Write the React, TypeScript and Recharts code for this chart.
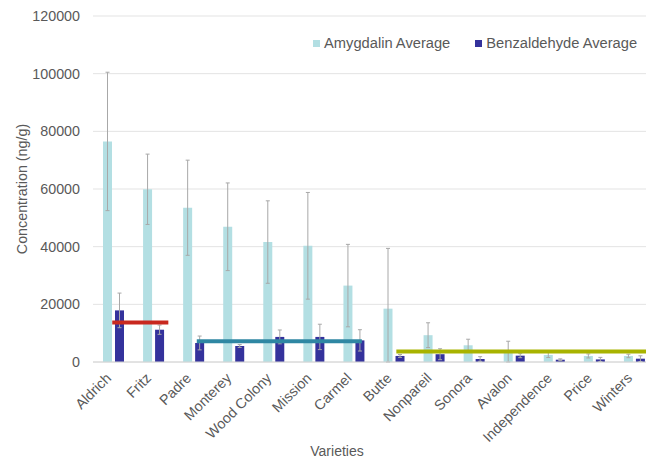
import React from 'react';
import { BarChart, Bar, XAxis, YAxis, CartesianGrid, ErrorBar, ReferenceLine, Legend } from 'recharts';

const varieties = ['Aldrich', 'Fritz', 'Padre', 'Monterey', 'Wood Colony', 'Mission', 'Carmel', 'Butte', 'Nonpareil', 'Sonora', 'Avalon', 'Independence', 'Price', 'Winters'];
const amygdalinAvg = [76500, 59900, 53500, 46900, 41600, 40300, 26500, 18500, 9300, 5800, 3100, 2450, 2100, 2100];
const amygdalinErr: [number, number][] = [[24000, 24000], [12200, 12200], [16500, 16500], [15200, 15200], [14300, 14300], [18500, 18500], [14300, 14300], [18500, 20900], [4300, 4300], [2100, 2100], [3100, 4100], [900, 900], [700, 700], [600, 600]];
const benzaldehydeAvg = [17900, 11200, 6600, 5550, 8700, 8700, 7500, 2100, 2700, 1050, 2200, 800, 900, 1150];
const benzaldehydeErr: [number, number][] = [[6000, 6000], [1600, 1600], [2400, 2400], [500, 500], [2400, 2400], [4400, 4400], [3700, 3700], [500, 500], [1900, 1900], [800, 800], [700, 700], [300, 300], [700, 700], [1000, 1000]];
const yTicks = [0, 20000, 40000, 60000, 80000, 100000, 120000];

// group mean lines: anchored on two categories, with start/end given in band units (0 = left edge of first band)
const groupLines: { from: string; to: string; start: number; end: number; y: number; color: string }[] = [
  { from: 'Aldrich', to: 'Fritz', start: 0.48, end: 1.88, y: 13700, color: '#c8281f' },
  { from: 'Padre', to: 'Carmel', start: 2.59, end: 6.71, y: 7200, color: '#2f87a3' },
  { from: 'Butte', to: 'Winters', start: 7.57, end: 14, y: 3600, color: '#a8b300' },
];

const data = varieties.map((name, i) => ({
  name,
  amygdalin: amygdalinAvg[i],
  amygErr: amygdalinErr[i],
  benzaldehyde: benzaldehydeAvg[i],
  benzErr: benzaldehydeErr[i],
}));

const FONT = '"Liberation Sans", Arial, sans-serif';
const TEXT = '#595959';
const AMY = '#b3dfe3';
const BENZ = '#34329c';
const ERR = '#a8a8a8';

const XTick = (props: any) => {
  const { x, y, payload } = props;
  const px = x - 1;
  const py = y + 9;
  return (
    <text x={px} y={py} transform={`rotate(-45, ${px}, ${py})`} textAnchor="end" fill={TEXT} fontSize={14.3} fontFamily={FONT}>
      {payload.value}
    </text>
  );
};

const LegendContent = () => (
  <div style={{ display: 'flex', alignItems: 'center', fontFamily: FONT, fontSize: 14.7, color: TEXT, lineHeight: '18px', whiteSpace: 'nowrap' }}>
    <span style={{ display: 'inline-block', width: 7, height: 7, background: AMY, marginRight: 4 }} />
    <span>Amygdalin Average</span>
    <span style={{ display: 'inline-block', width: 7, height: 7, background: BENZ, marginLeft: 25, marginRight: 4 }} />
    <span>Benzaldehyde Average</span>
  </div>
);

const makeGroupShape = (g: { from: string; to: string; start: number; end: number; color: string }) => (p: any) => {
  const i1 = varieties.indexOf(g.from);
  const i2 = varieties.indexOf(g.to);
  const band = (p.x2 - p.x1) / (i2 - i1);
  const xs = p.x1 + (g.start - (i1 + 0.5)) * band;
  const xe = p.x1 + (g.end - (i1 + 0.5)) * band;
  return <line x1={xs} y1={p.y1} x2={xe} y2={p.y2} stroke={g.color} strokeWidth={4} />;
};

export default function App() {
  return (
    <div style={{ position: 'absolute', left: 0, top: 0, width: 646, height: 459, overflow: 'hidden', background: '#fff' }}>
      <BarChart width={654} height={459} data={data} margin={{ top: 16, right: 0, bottom: 0, left: 0 }} barSize={9} barGap={3}>
        <CartesianGrid vertical={false} stroke="#e3e3e3" />
        <XAxis
          dataKey="name"
          height={97}
          interval={0}
          tickLine={false}
          axisLine={{ stroke: '#d4d4d4' }}
          tick={<XTick />}
          label={(p: any) => (
            <text x={337} y={456} textAnchor="middle" fill={TEXT} fontSize={14} fontFamily={FONT}>Varieties</text>
          )}
        />
        <YAxis
          width={93}
          domain={[0, 120000]}
          ticks={yTicks}
          interval={0}
          tickLine={false}
          axisLine={false}
          tickMargin={7}
          tick={{ fill: TEXT, fontSize: 14.3, fontFamily: FONT }}
          label={(p: any) => {
            const vb = p.viewBox || { y: 16, height: 346 };
            const cy = vb.y + vb.height / 2;
            return (
              <text x={27} y={cy} transform={`rotate(-90, 27, ${cy})`} textAnchor="middle" fill={TEXT} fontSize={14.3} fontFamily={FONT}>
                Concentration (ng/g)
              </text>
            );
          }}
        />
        <Legend verticalAlign="middle" align="center" layout="horizontal" wrapperStyle={{ top: 34, left: 313, width: 340, height: 18 }} content={<LegendContent />} />
        <Bar dataKey="amygdalin" name="Amygdalin Average" fill={AMY} isAnimationActive={false}>
          <ErrorBar dataKey="amygErr" width={2} stroke={ERR} strokeWidth={1} direction="y" />
        </Bar>
        <Bar dataKey="benzaldehyde" name="Benzaldehyde Average" fill={BENZ} isAnimationActive={false}>
          <ErrorBar dataKey="benzErr" width={2} stroke={ERR} strokeWidth={1} direction="y" />
        </Bar>
        {groupLines.map((g, i) => (
          <ReferenceLine
            key={i}
            segment={[{ x: g.from, y: g.y }, { x: g.to, y: g.y }]}
            stroke={g.color}
            strokeWidth={4}
            ifOverflow="visible"
            shape={makeGroupShape(g)}
          />
        ))}
      </BarChart>
    </div>
  );
}
